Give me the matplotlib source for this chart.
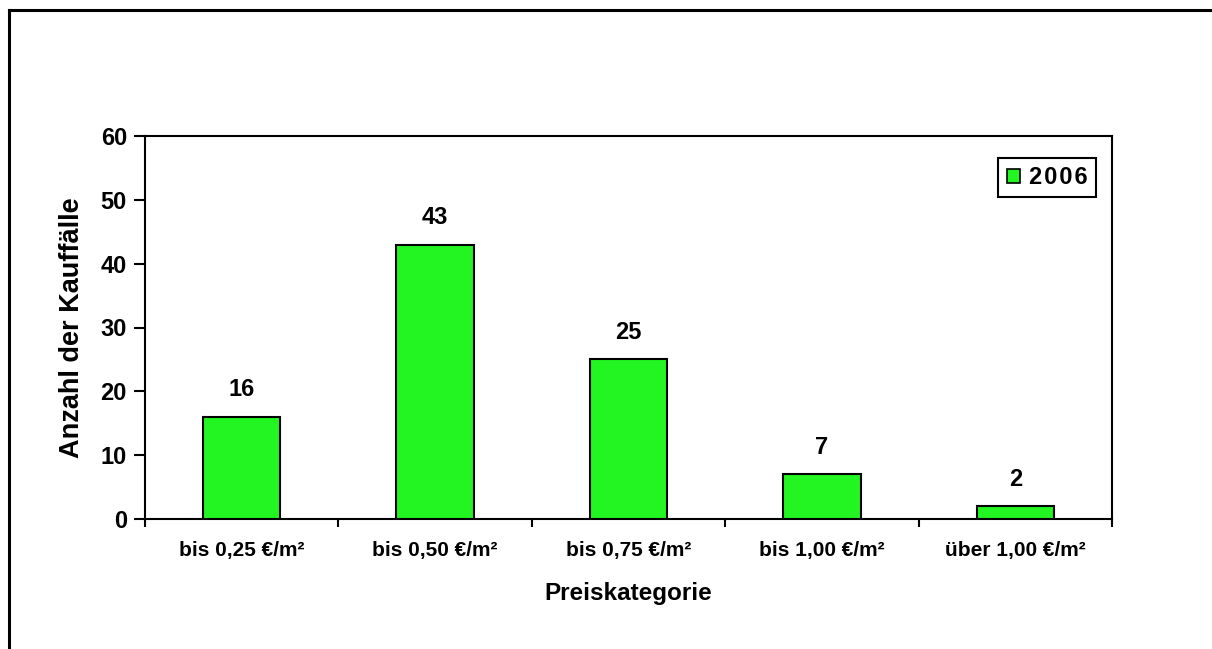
import matplotlib
matplotlib.use("Agg")
import matplotlib.pyplot as plt
from matplotlib.lines import Line2D
from matplotlib.patches import Patch

categories = ["bis 0,25 €/m²", "bis 0,50 €/m²", "bis 0,75 €/m²", "bis 1,00 €/m²", "über 1,00 €/m²"]
counts_2006 = [16, 43, 25, 7, 2]
series_name = "2006"
y_ticks = [0, 10, 20, 30, 40, 50, 60]

plt.rcParams["font.family"] = ["Liberation Sans", "DejaVu Sans"]
plt.rcParams["font.weight"] = "bold"

fig = plt.figure(figsize=(12.12, 6.49), dpi=100)
ax = fig.add_axes([145 / 1212, 1 - 519 / 649, (1112 - 145) / 1212, (519 - 136) / 649])

bar_color = "#22F522"
x = list(range(len(categories)))
bars = ax.bar(x, counts_2006, width=0.40, color=bar_color, edgecolor="black", linewidth=1.5, zorder=3)

for xi, v in zip(x, counts_2006):
    ax.annotate(str(v), (xi, v), xytext=(0, 19.5), textcoords="offset points",
                ha="center", va="center", fontsize=17, fontweight="bold")

ax.set_xlim(-0.5, len(categories) - 0.5)
ax.set_ylim(0, 60)
ax.set_yticks(y_ticks)
ax.set_yticklabels([str(t) for t in y_ticks], fontsize=17, fontweight="bold")

# category labels centred, ticks on category boundaries
ax.set_xticks([i - 0.5 for i in range(len(categories) + 1)])
ax.set_xticklabels([""] * (len(categories) + 1))
ax.set_xticks(x, minor=True)
ax.set_xticklabels(categories, minor=True, fontsize=15, fontweight="bold")
ax.tick_params(axis="x", which="minor", length=0, pad=16)
ax.tick_params(axis="x", which="major", length=6, width=1.5, direction="out")
ax.tick_params(axis="y", length=8, width=1.5, direction="out", pad=5)

for s in ax.spines.values():
    s.set_linewidth(1.5)
    s.set_color("black")

ax.set_ylabel("Anzahl der Kauffälle", fontsize=19.5, fontweight="bold", labelpad=11)
ax.set_xlabel("Preiskategorie", fontsize=17.5, fontweight="bold", labelpad=16)

handle = Patch(facecolor=bar_color, edgecolor="black", linewidth=1.2)
leg = ax.legend([handle], ["\u200a".join(series_name)], loc="upper right",
                bbox_to_anchor=(0.9835, 0.943),
                fontsize=17, frameon=True, fancybox=False, framealpha=1,
                handlelength=0.55, handleheight=0.55, handletextpad=0.4,
                borderpad=0.35, borderaxespad=0)
leg.get_frame().set_edgecolor("black")
leg.get_frame().set_linewidth(1.5)
for t in leg.get_texts():
    t.set_fontweight("bold")

# open outer frame: top and left edges
fig.add_artist(Line2D([9 / 1212, 1], [1 - 10 / 649, 1 - 10 / 649], transform=fig.transFigure,
                      color="black", linewidth=2.2))
fig.add_artist(Line2D([9 / 1212, 9 / 1212], [0, 1 - 10 / 649], transform=fig.transFigure,
                      color="black", linewidth=2.2))

fig.savefig("out.png", dpi=100)
